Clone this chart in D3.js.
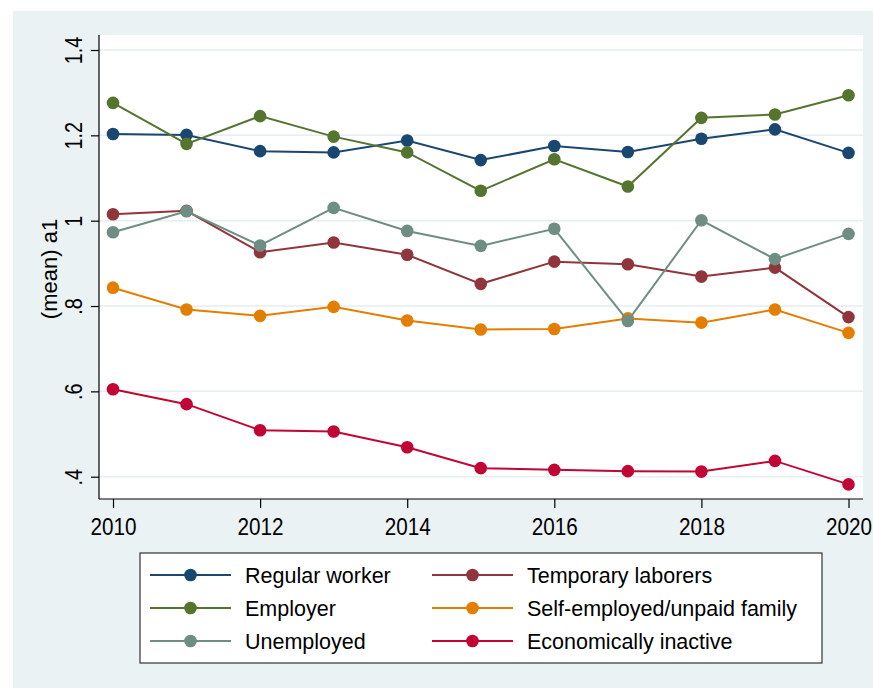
<!DOCTYPE html>
<html>
<head>
<meta charset="utf-8">
<script src="https://cdn.jsdelivr.net/npm/d3@7"></script>
<style>
  body { margin: 0; background: #fff; }
  text { font-family: "Liberation Sans", Arial, Helvetica, sans-serif; fill: #000; }
</style>
</head>
<body>
<div id="chart"></div>
<script>
// data
var years = [2010, 2011, 2012, 2013, 2014, 2015, 2016, 2017, 2018, 2019, 2020];
var regularWorker = [1.203, 1.201, 1.163, 1.160, 1.188, 1.142, 1.175, 1.161, 1.192, 1.214, 1.159];
var temporaryLaborers = [1.015, 1.023, 0.926, 0.949, 0.920, 0.852, 0.904, 0.898, 0.869, 0.890, 0.774];
var employer = [1.276, 1.180, 1.245, 1.197, 1.160, 1.070, 1.144, 1.080, 1.241, 1.249, 1.294];
var selfEmployed = [0.843, 0.792, 0.777, 0.798, 0.766, 0.745, 0.746, 0.771, 0.761, 0.792, 0.737];
var unemployed = [0.973, 1.022, 0.942, 1.030, 0.976, 0.941, 0.981, 0.765, 1.001, 0.910, 0.969];
var econInactive = [0.605, 0.570, 0.509, 0.506, 0.469, 0.420, 0.416, 0.413, 0.412, 0.437, 0.382];

var seriesNames = ["Regular worker", "Temporary laborers", "Employer",
    "Self-employed/unpaid family", "Unemployed", "Economically inactive"];
var seriesColors = ["#1A476F", "#90353B", "#55752F", "#E37E00", "#6E8E84", "#C10534"];
var seriesValues = [regularWorker, temporaryLaborers, employer, selfEmployed, unemployed, econInactive];

var xTicks = [2010, 2012, 2014, 2016, 2018, 2020];
var yTicks = [0.4, 0.6, 0.8, 1.0, 1.2, 1.4];
var yTickLabels = [".4", ".6", ".8", "1", "1.2", "1.4"];
var yTitle = "(mean) a1";

var width = 873, height = 688;
var plot = { left: 99, right: 863, top: 35, bottom: 499 };

var svg = d3.select("#chart")
    .append("svg")
    .attr("width", width)
    .attr("height", height);

// graph region + plot region
svg.append("rect")
    .attr("x", 13).attr("y", 11)
    .attr("width", width - 13).attr("height", height - 11)
    .style("fill", "#EAF2F3");

svg.append("rect")
    .attr("x", plot.left).attr("y", plot.top)
    .attr("width", plot.right - plot.left).attr("height", plot.bottom - plot.top)
    .style("fill", "#fff");

var x = d3.scaleLinear().domain([2010, 2020]).range([113, 848.5]);
var y = d3.scaleLinear().domain([0.4, 1.4]).range([476.7, 50]);

// grid lines
svg.append("g")
    .selectAll("line")
    .data(yTicks)
    .enter()
    .append("line")
    .attr("x1", plot.left).attr("x2", plot.right)
    .attr("y1", function(d) { return y(d); })
    .attr("y2", function(d) { return y(d); })
    .style("stroke", "#E6EEF1")
    .style("stroke-width", 1.5);

// y axis
var yAxis = svg.append("g")
    .attr("transform", "translate(" + plot.left + ",0)")
    .call(d3.axisLeft(y).tickValues(yTicks).tickSize(8).tickFormat(""));
yAxis.select(".domain").attr("d", "M0," + plot.top + "V" + plot.bottom);
yAxis.selectAll("line, path").style("stroke", "#000").style("stroke-width", 1.2);

yAxis.selectAll(".tick")
    .append("text")
    .attr("text-anchor", "middle")
    .attr("transform", "translate(-17,0) rotate(-90) scale(0.9,1.05)")
    .style("font-size", "22px")
    .style("fill", "#000")
    .text(function(d, i) { return yTickLabels[i]; });

// x axis
var xAxis = svg.append("g")
    .attr("transform", "translate(0," + plot.bottom + ")")
    .call(d3.axisBottom(x).tickValues(xTicks).tickSize(9).tickFormat(""));
xAxis.select(".domain").attr("d", "M" + plot.left + ",0H" + plot.right);
xAxis.selectAll("line, path").style("stroke", "#000").style("stroke-width", 1.2);

xAxis.selectAll(".tick")
    .append("text")
    .attr("text-anchor", "middle")
    .attr("transform", "translate(0,35.5) scale(0.9,1.05)")
    .style("font-size", "23px")
    .style("fill", "#000")
    .text(function(d) { return d; });

// y title
svg.append("text")
    .attr("text-anchor", "middle")
    .attr("transform", "translate(57,269) rotate(-90)")
    .style("font-size", "22px")
    .text(yTitle);

// lines and markers
var line = d3.line()
    .x(function(d, i) { return x(years[i]); })
    .y(function(d) { return y(d); });

seriesValues.forEach(function(vals, s) {
    var g = svg.append("g");
    g.append("path")
        .datum(vals)
        .attr("d", line)
        .style("fill", "none")
        .style("stroke", seriesColors[s])
        .style("stroke-width", 2);
    g.selectAll("circle")
        .data(vals)
        .enter()
        .append("circle")
        .attr("cx", function(d, i) { return x(years[i]); })
        .attr("cy", function(d) { return y(d); })
        .attr("r", 6.3)
        .style("fill", seriesColors[s]);
});

// legend
var legend = svg.append("g");
legend.append("rect")
    .attr("x", 140).attr("y", 553)
    .attr("width", 682).attr("height", 110)
    .style("fill", "#fff")
    .style("stroke", "#333")
    .style("stroke-width", 1.2);

var colX = [150, 432];
var rowY = [575, 608, 641];

var items = legend.selectAll("g.item")
    .data(seriesNames)
    .enter()
    .append("g")
    .attr("class", "item")
    .attr("transform", function(d, i) {
        return "translate(" + colX[i % 2] + "," + rowY[Math.floor(i / 2)] + ")";
    });

items.append("line")
    .attr("x1", 0).attr("x2", 81)
    .style("stroke", function(d, i) { return seriesColors[i]; })
    .style("stroke-width", 2);
items.append("circle")
    .attr("cx", 40.5)
    .attr("r", 6.3)
    .style("fill", function(d, i) { return seriesColors[i]; });
items.append("text")
    .attr("x", 95)
    .attr("y", 7.5)
    .style("font-size", "21.5px")
    .text(function(d) { return d; });
</script>
</body>
</html>
